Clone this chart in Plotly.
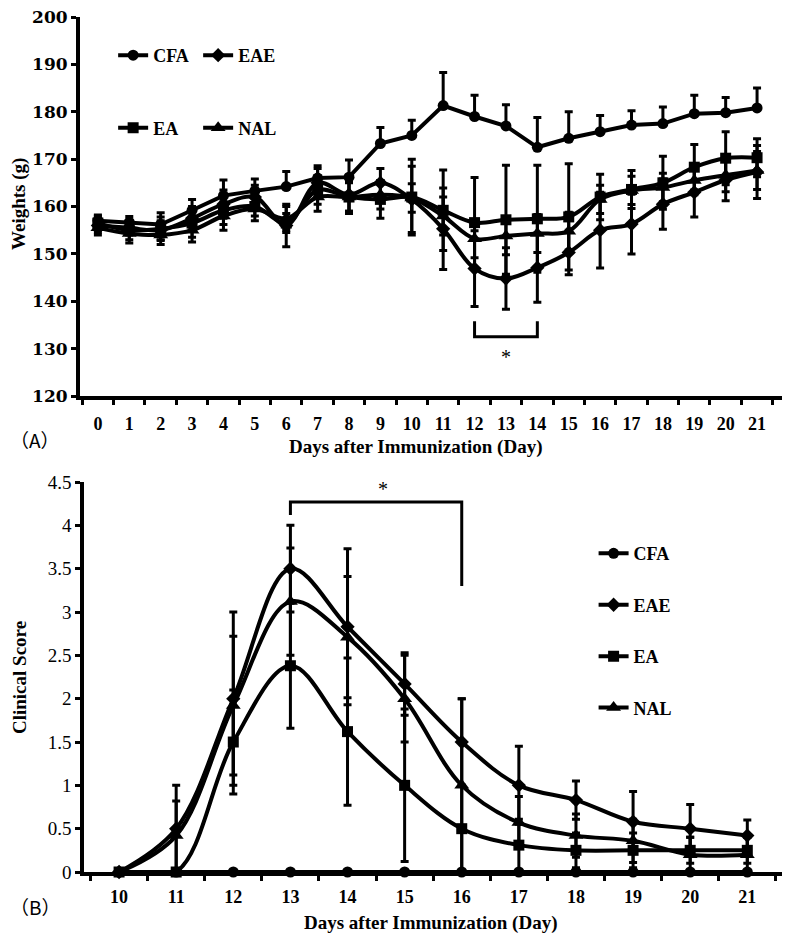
"""Body weight and clinical score of EAE rats, two stacked panels."""
import plotly.graph_objects as go
from plotly.subplots import make_subplots

# ---- panel A: body weights (g) ----
days_a = list(range(0, 22))
cfa_w = [157, 156.7, 156.2, 159.2, 162.3, 163.3, 164.2, 166, 166.2, 173.3, 175,
         181.3, 179, 177, 172.5, 174.4, 175.8, 177.2, 177.5, 179.6, 179.8, 180.8]
cfa_w_err = [1.2, 1.2, 2.5, 2.3, 3.3, 2.5, 3.2, 2.6, 3.6, 3.4, 3.2,
             7.0, 4.5, 4.5, 6.3, 5.6, 3.4, 3.0, 3.5, 3.9, 3.2, 4.2]
eae_w = [156, 155.5, 155, 157.5, 160.5, 162, 156, 165, 162.5, 165, 161.5,
         155.3, 146.9, 144.8, 147.1, 150.3, 155, 156.3, 160.5, 163, 165.6, 167.3]
eae_w_err = [1.5, 1.5, 2, 2.5, 3, 2.5, 4.5, 3, 3.5, 3, 7,
             8.6, 8, 6.5, 7.3, 4.7, 8, 6.3, 5.3, 5.2, 4.4, 5.6]
ea_w = [156.5, 155, 155.3, 156.5, 159.2, 160, 156.5, 163.5, 162, 161.5, 162,
        159.2, 156.6, 157.2, 157.4, 157.8, 162, 163.6, 165, 168.3, 170.2, 170.3]
ea_w_err = [1.5, 2, 2.5, 3, 3, 2, 2, 3, 3, 4, 8,
            8.5, 9.5, 11.5, 11.3, 11.2, 4.8, 4, 5.6, 4.8, 5.6, 4]
nal_w = [155.5, 154.3, 154, 155, 158, 159.5, 157.5, 162, 162, 162.5, 161.8,
         158, 153.2, 153.8, 154.3, 154.8, 161.5, 163.4, 164, 165.5, 166.6, 167.6]
nal_w_err = [1.5, 2, 2, 2.5, 3, 2.5, 2.5, 3, 3.5, 3, 3,
             4, 4, 4, 4, 4, 3, 3, 3, 3, 3.5, 4]

# ---- panel B: clinical score ----
days_b = list(range(10, 22))
cfa_s = [0] * 12
cfa_s_err = [0] * 12
eae_s = [0, 0.5, 2.0, 3.5, 2.83, 2.17, 1.5, 1.0, 0.83, 0.58, 0.5, 0.42]
eae_s_err = [0, 0.5, 1.0, 0.5, 0.9, 0.36, 0.5, 0.45, 0.22, 0.35, 0.28, 0.18]
ea_s = [0, 0, 1.5, 2.38, 1.62, 1.0, 0.5, 0.31, 0.25, 0.25, 0.25, 0.25]
ea_s_err = [0, 0, 0.6, 0.72, 0.85, 0.88, 0.5, 0.3, 0.2, 0.2, 0.15, 0.15]
nal_s = [0, 0.42, 1.92, 3.12, 2.71, 2.0, 1.0, 0.57, 0.42, 0.36, 0.2, 0.2]
nal_s_err = [0, 0.4, 0.8, 0.62, 0.7, 0.5, 1.0, 0.3, 0.25, 0.25, 0.2, 0.2]

groups = ['CFA', 'EAE', 'EA', 'NAL']
symbols = {'CFA': 'circle', 'EAE': 'diamond', 'EA': 'square', 'NAL': 'triangle-up'}
sizes = {'CFA': 11, 'EAE': 11, 'EA': 11, 'NAL': 13}

SERIF = 'Liberation Serif, Times New Roman, DejaVu Serif, serif'


def add_series(fig, row, name, x, y, err, legend, upper_only=False, shape='linear'):
    """Add one black line+marker series with error bars to the given row."""
    err_y = dict(type='data', array=err, color='black', thickness=3, width=4)
    if upper_only:
        err_y.update(symmetric=False, arrayminus=[0] * len(err))
    fig.add_trace(go.Scatter(
        x=x, y=y, name=name, mode='lines+markers',
        line=dict(color='black', width=4, shape=shape, smoothing=1.0),
        marker=dict(symbol=symbols[name], size=sizes[name], color='black'),
        error_y=err_y, legend=legend, legendgroup=legend + name,
        cliponaxis=False,
    ), row=row, col=1)


fig = make_subplots(rows=2, cols=1)

a_data = {'CFA': (cfa_w, cfa_w_err), 'EAE': (eae_w, eae_w_err),
          'EA': (ea_w, ea_w_err), 'NAL': (nal_w, nal_w_err)}
for g in groups:
    legend = 'legend' if g in ('CFA', 'EAE') else 'legend2'
    add_series(fig, 1, g, days_a, a_data[g][0], a_data[g][1], legend,
               upper_only=(g == 'CFA'),
               shape='linear' if g == 'CFA' else 'spline')

b_data = {'CFA': (cfa_s, cfa_s_err), 'EAE': (eae_s, eae_s_err),
          'EA': (ea_s, ea_s_err), 'NAL': (nal_s, nal_s_err)}
for g in groups:
    add_series(fig, 2, g, days_b, b_data[g][0], b_data[g][1], 'legend3', shape='spline')

axis_common = dict(showline=True, linecolor='black', linewidth=4, showgrid=False,
                   zeroline=False, mirror=False, automargin=False,
                   ticklabeloverflow='allow')
tick_font = dict(family=SERIF, size=18, color='black', weight='bold')

fig.update_xaxes(
    **axis_common, range=[-0.57, 21.89], tickvals=days_a, ticks='',
    tickfont=tick_font, ticklabelstandoff=8,
    minor=dict(tickvals=[d - 0.5 for d in days_a] + [21.5], ticks='outside',
               ticklen=5, tickwidth=3, tickcolor='black'),
    domain=[0, 1], row=1, col=1)
fig.update_yaxes(
    **axis_common, range=[120, 200], tickvals=list(range(120, 201, 10)),
    ticks='outside', ticklen=5, tickwidth=3, tickcolor='black',
    tickfont=dict(family='DejaVu Serif', size=17, color='black', weight='bold'),
    domain=[0.5567, 1], row=1, col=1)
fig.update_xaxes(
    **axis_common, range=[9.39, 21.66], tickvals=days_b, ticks='',
    tickfont=tick_font, ticklabelstandoff=5,
    minor=dict(tickvals=[d - 0.5 for d in days_b] + [21.5], ticks='outside',
               ticklen=5, tickwidth=3, tickcolor='black'),
    domain=[0.006, 1], row=2, col=1)
fig.update_yaxes(
    **axis_common, range=[0, 4.5], dtick=0.5, ticks='outside', ticklen=5,
    tickwidth=3, tickcolor='black',
    tickfont=dict(family=SERIF, size=19, color='black'),
    domain=[0, 0.4561], row=2, col=1)

# the page body adds 8px on the left and top, so the figure is 8px smaller
legend_font = dict(family=SERIF, size=18, color='black', weight='bold')
fig.update_layout(
    width=782, height=932,
    margin=dict(l=72, r=5, t=9, b=68),
    plot_bgcolor='white', paper_bgcolor='white',
    legend=dict(orientation='h', x=0.047, y=0.955, xanchor='left', yanchor='middle',
                entrywidth=40, entrywidthmode='pixels', font=legend_font,
                bgcolor='rgba(0,0,0,0)'),
    legend2=dict(orientation='h', x=0.047, y=0.870, xanchor='left', yanchor='middle',
                 entrywidth=40, entrywidthmode='pixels', font=legend_font,
                 bgcolor='rgba(0,0,0,0)'),
    legend3=dict(orientation='v', x=0.7285, y=0.2823, xanchor='left', yanchor='middle',
                 tracegroupgap=25, font=legend_font, bgcolor='rgba(0,0,0,0)'),
)

# significance brackets
fig.add_shape(type='path', path='M 12,135.8 L 12,132.5 L 14,132.5 L 14,135.8',
              line=dict(color='black', width=3), xref='x', yref='y')
fig.add_shape(type='path', path='M 13,4.12 L 13,4.27 L 16,4.27 L 16,3.3',
              line=dict(color='black', width=3), xref='x2', yref='y2')

title_font = dict(family=SERIF, size=19, color='black', weight='bold')
star_font = dict(family=SERIF, size=20, color='black')
cjk_font = dict(family='Noto Sans CJK SC', size=19, color='black')
notes = [
    dict(text='*', x=13, y=128.3, xref='x', yref='y', font=star_font),
    dict(text='*', x=14.62, y=4.42, xref='x2', yref='y2', font=star_font),
    dict(text='Weights (g)', x=-0.0865, y=0.7813, xref='paper', yref='paper',
         textangle=-90, font=title_font),
    dict(text='Clinical Score', x=-0.0865, y=0.2269, xref='paper', yref='paper',
         textangle=-90, font=title_font),
    dict(text='Days after Immunization (Day)', x=0.4766, y=0.4971, xref='paper',
         yref='paper', font=title_font),
    dict(text='Days after Immunization (Day)', x=0.498, y=-0.0596, xref='paper',
         yref='paper', font=title_font),
]
for n in notes:
    fig.add_annotation(showarrow=False, xanchor='center', yanchor='middle', **n)

# panel letters, pinned to the left edge of the figure
for letter, ly in [('（A）', 0.5053), ('（B）', -0.0409)]:
    fig.add_annotation(text=letter, x=-0.1021, y=ly, xref='paper', yref='paper',
                       xanchor='left', yanchor='middle', showarrow=False,
                       font=cjk_font)

fig.write_html("out.html")
